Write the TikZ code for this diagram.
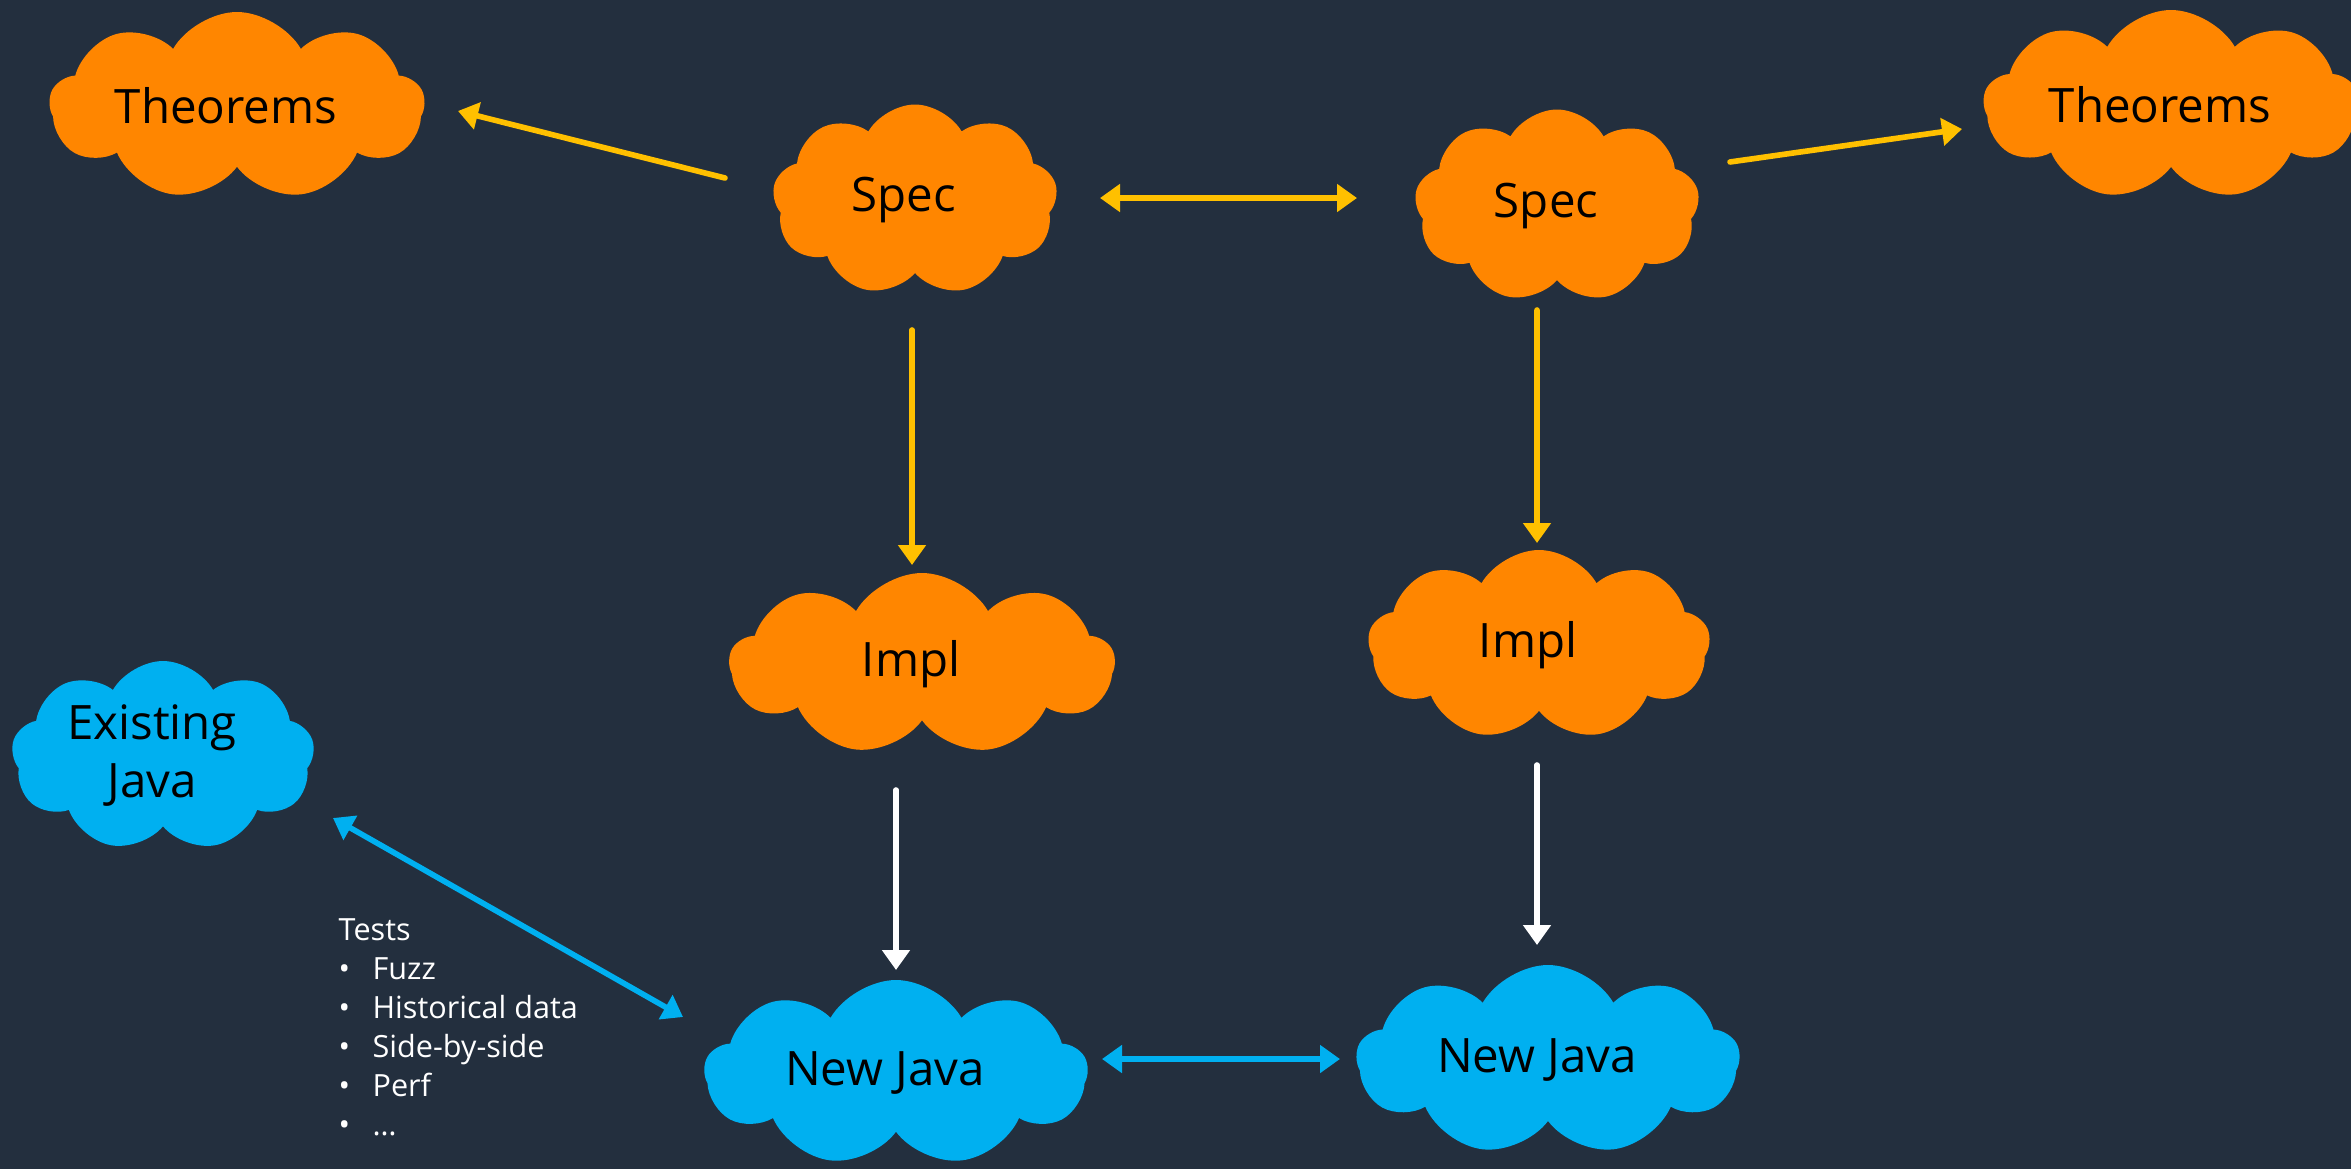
\documentclass[tikz,border=0pt]{standalone}
\usepackage{fontspec}
\setmainfont{Open Sans}
\usetikzlibrary{shapes.symbols,arrows.meta}

\definecolor{bgnavy}{HTML}{232F3E}
\definecolor{puffOrange}{HTML}{FF8600}
\definecolor{linkYellow}{HTML}{FFC000}
\definecolor{javaBlue}{HTML}{00B0F0}

\tikzstyle{puff}=[cloud, cloud puffs=9, cloud puff arc=120, cloud ignores aspect, inner sep=0pt, text=black, align=center, font=\fontsize{13.5}{16.5}\selectfont, execute at begin node=\hspace*{-0.22cm}]
\tikzstyle{orangepuff}=[puff, fill=puffOrange]
\tikzstyle{bluepuff}=[puff, fill=javaBlue]
\tikzstyle{link}=[draw, line width=1.6pt, line cap=round, -{Triangle[length=0.2cm,width=0.27cm]}]
\tikzstyle{biglink}=[link, {Triangle[length=0.2cm,width=0.27cm]}-{Triangle[length=0.2cm,width=0.27cm]}]
\tikzstyle{testlist}=[text=white, inner sep=0pt, anchor=north west, font=\fontsize{8.7}{11.1}\selectfont]

\begin{document}
\begin{tikzpicture}
    \useasboundingbox (0,0) rectangle (23.51,-11.69);
    \fill[bgnavy] (0,0) rectangle (23.51,-11.69);
    \clip (0,0) rectangle (23.51,-11.69);

    % First we draw the clouds
    \foreach \pos/\name/\w/\h/\txt in {{(2.37,-1.06)/thmL/3.75/1.88/Theorems}, {(9.15,-2.00)/specL/2.85/1.91/Spec},
        {(15.57,-2.06)/specR/2.85/1.93/Spec}, {(21.71,-1.05)/thmR/3.75/1.90/Theorems},
        {(9.22,-6.64)/implL/3.85/1.82/Impl}, {(15.39,-6.45)/implR/3.42/1.90/Impl}}
        \node[orangepuff, minimum width=\w cm, minimum height=\h cm] (\name) at \pos {\txt};
    \foreach \pos/\name/\w/\h/\txt in {{(1.63,-7.56)/exJava/3.03/1.90/Existing\\Java},
        {(8.96,-10.73)/newL/3.83/1.86/New Java}, {(15.48,-10.60)/newR/3.83/1.90/New Java}}
        \node[bluepuff, minimum width=\w cm, minimum height=\h cm] (\name) at \pos {\txt};

    % the test list
    \node[testlist] (tests) at (3.38,-9.12) {%
        \begin{tabular}{@{}p{0.34cm}@{}l@{}}
        \multicolumn{2}{@{}l}{Tests}\\
        \textbullet & Fuzz\\
        \textbullet & Historical data\\
        \textbullet & Side-by-side\\
        \textbullet & Perf\\
        \textbullet & \dots
        \end{tabular}};

    % Connect clouds (offsets from the cloud centres)
    \foreach \source/\sx/\sy/\dest/\dx/\dy/\col in {specL/-1.90/0.22/thmL/2.21/-0.05/linkYellow,
        specR/1.73/0.44/thmR/-2.09/-0.24/linkYellow,
        specL/-0.03/-1.30/implL/-0.10/0.99/linkYellow,
        specR/-0.20/-1.04/implR/-0.02/1.02/linkYellow,
        implL/-0.26/-1.26/newL/0/1.03/white,
        implR/-0.02/-1.20/newR/-0.11/1.15/white}
        \path[link, color=\col] ([shift={(\sx,\sy)}]\source.center) -- ([shift={(\dx,\dy)}]\dest.center);

    \foreach \source/\sx/\sy/\dest/\dx/\dy/\col in {specL/1.85/0.02/specR/-2.00/0.08/linkYellow,
        exJava/1.70/-0.62/newL/-2.13/0.56/javaBlue,
        newL/2.06/0.14/newR/-2.08/0.01/javaBlue}
        \path[biglink, color=\col] ([shift={(\sx,\sy)}]\source.center) -- ([shift={(\dx,\dy)}]\dest.center);
\end{tikzpicture}
\end{document}
